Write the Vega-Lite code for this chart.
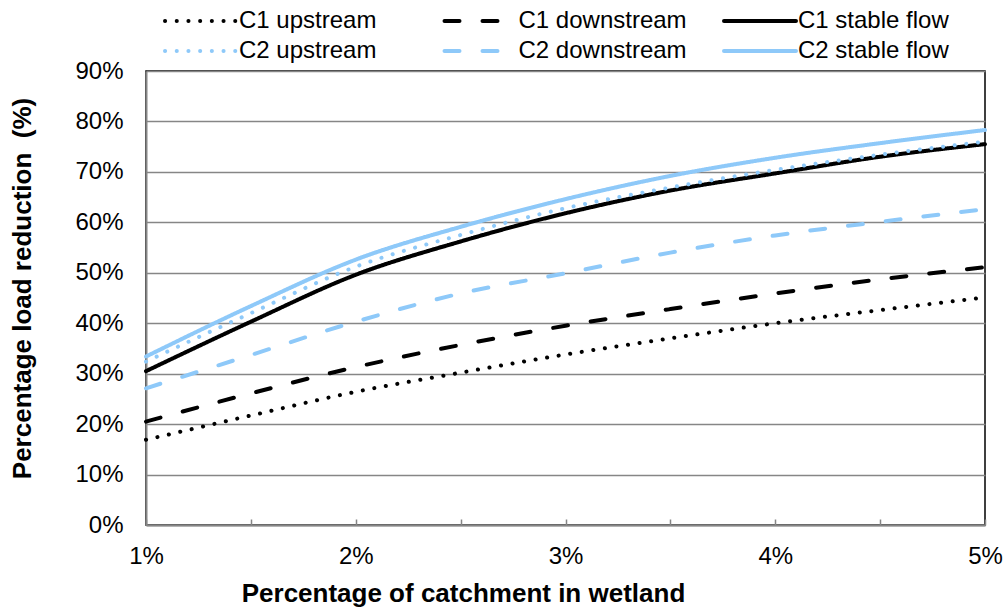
{
  "$schema": "https://vega.github.io/schema/vega-lite/v6.json",
  "width": 839,
  "height": 454,
  "autosize": {"type": "none"},
  "padding": {"left": 146, "top": 71, "right": 21, "bottom": 85},
  "background": "white",
  "config": {
    "view": {"stroke": "black", "strokeWidth": 1.5},
    "font": "Liberation Sans",
    "legend": {
      "orient": "none", "columns": 3, "title": null, "symbolType": "stroke", "symbolSize": 5184,
      "symbolStrokeWidth": 4, "labelFontSize": 24, "labelColor": "black", "labelLimit": 400,
      "gridAlign": "all", "columnPadding": 28.5, "labelOffset": 0
    }
  },
  "data": {"values": [
    {"series": "C1 upstream", "x": 1, "y": 16.9},
    {"series": "C1 upstream", "x": 1.5, "y": 21.7},
    {"series": "C1 upstream", "x": 2, "y": 26.4},
    {"series": "C1 upstream", "x": 2.5, "y": 30.2},
    {"series": "C1 upstream", "x": 3, "y": 33.8},
    {"series": "C1 upstream", "x": 3.5, "y": 37.0},
    {"series": "C1 upstream", "x": 4, "y": 40.0},
    {"series": "C1 upstream", "x": 4.5, "y": 42.6},
    {"series": "C1 upstream", "x": 5, "y": 45.1},
    {"series": "C1 downstream", "x": 1, "y": 20.5},
    {"series": "C1 downstream", "x": 1.5, "y": 26.1},
    {"series": "C1 downstream", "x": 2, "y": 31.3},
    {"series": "C1 downstream", "x": 2.5, "y": 35.7},
    {"series": "C1 downstream", "x": 3, "y": 39.5},
    {"series": "C1 downstream", "x": 3.5, "y": 42.8},
    {"series": "C1 downstream", "x": 4, "y": 45.9},
    {"series": "C1 downstream", "x": 4.5, "y": 48.7},
    {"series": "C1 downstream", "x": 5, "y": 51.1},
    {"series": "C1 stable flow", "x": 1, "y": 30.5},
    {"series": "C1 stable flow", "x": 1.5, "y": 40.3},
    {"series": "C1 stable flow", "x": 2, "y": 49.6},
    {"series": "C1 stable flow", "x": 2.5, "y": 56.2},
    {"series": "C1 stable flow", "x": 3, "y": 61.8},
    {"series": "C1 stable flow", "x": 3.5, "y": 66.3},
    {"series": "C1 stable flow", "x": 4, "y": 69.7},
    {"series": "C1 stable flow", "x": 4.5, "y": 73.0},
    {"series": "C1 stable flow", "x": 5, "y": 75.5},
    {"series": "C2 upstream", "x": 1, "y": 32.4},
    {"series": "C2 upstream", "x": 1.5, "y": 42.0},
    {"series": "C2 upstream", "x": 2, "y": 51.2},
    {"series": "C2 upstream", "x": 2.5, "y": 57.5},
    {"series": "C2 upstream", "x": 3, "y": 62.8},
    {"series": "C2 upstream", "x": 3.5, "y": 66.9},
    {"series": "C2 upstream", "x": 4, "y": 70.4},
    {"series": "C2 upstream", "x": 4.5, "y": 73.4},
    {"series": "C2 upstream", "x": 5, "y": 76.0},
    {"series": "C2 downstream", "x": 1, "y": 27.1},
    {"series": "C2 downstream", "x": 1.5, "y": 33.7},
    {"series": "C2 downstream", "x": 2, "y": 40.3},
    {"series": "C2 downstream", "x": 2.5, "y": 45.9},
    {"series": "C2 downstream", "x": 3, "y": 49.9},
    {"series": "C2 downstream", "x": 3.5, "y": 54.0},
    {"series": "C2 downstream", "x": 4, "y": 57.4},
    {"series": "C2 downstream", "x": 4.5, "y": 60.1},
    {"series": "C2 downstream", "x": 5, "y": 62.6},
    {"series": "C2 stable flow", "x": 1, "y": 33.4},
    {"series": "C2 stable flow", "x": 1.5, "y": 43.4},
    {"series": "C2 stable flow", "x": 2, "y": 52.6},
    {"series": "C2 stable flow", "x": 2.5, "y": 59.1},
    {"series": "C2 stable flow", "x": 3, "y": 64.6},
    {"series": "C2 stable flow", "x": 3.5, "y": 69.2},
    {"series": "C2 stable flow", "x": 4, "y": 72.8},
    {"series": "C2 stable flow", "x": 4.5, "y": 75.7},
    {"series": "C2 stable flow", "x": 5, "y": 78.3}
  ]},
  "encoding": {
    "x": {
      "field": "x", "type": "quantitative",
      "scale": {"domain": [1, 5], "nice": false},
      "axis": {
        "values": [1, 1.5, 2, 2.5, 3, 3.5, 4, 4.5, 5],
        "labelExpr": "datum.value % 1 == 0 ? datum.value + '%' : ''",
        "grid": false,
        "tickSize": -6, "tickColor": "#868686", "tickWidth": 1.5,
        "domainColor": "#868686", "domainWidth": 2,
        "labelFontSize": 24, "labelColor": "black", "labelPadding": 25,
        "labelFlush": false,
        "title": "Percentage of catchment in wetland",
        "titleFontSize": 26, "titleFontWeight": "bold", "titleColor": "black",
        "titleX": 317, "titleY": 68, "titleBaseline": "middle", "titleAlign": "center"
      }
    },
    "y": {
      "field": "y", "type": "quantitative",
      "scale": {"domain": [0, 90], "nice": false},
      "axis": {
        "values": [0, 10, 20, 30, 40, 50, 60, 70, 80, 90],
        "labelExpr": "datum.value + '%'",
        "ticks": false,
        "domainColor": "#868686", "domainWidth": 2,
        "gridColor": "#868686", "gridWidth": 1.5,
        "labelFontSize": 24, "labelColor": "black", "labelPadding": 23,
        "title": "Percentage load reduction \u00a0(%)",
        "titleFontSize": 26, "titleFontWeight": "bold", "titleColor": "black",
        "titleX": -124, "titleY": 217, "titleBaseline": "middle", "titleAlign": "center", "titleAngle": 270
      }
    }
  },
  "layer": [
    {
      "transform": [{"filter": "indexof(datum.series, 'C1') == 0"}],
      "mark": {"type": "line", "interpolate": "monotone", "strokeWidth": 4, "strokeCap": "round"},
      "encoding": {
        "color": {
          "field": "series", "type": "nominal",
          "scale": {"domain": ["C1 upstream", "C1 downstream", "C1 stable flow"], "range": ["#000000", "#000000", "#000000"]},
          "legend": {"legendX": 17, "legendY": -88, "encode": {"symbols": {"update": {"strokeCap": {"value": "round"}}}}}
        },
        "strokeDash": {
          "field": "series", "type": "nominal",
          "scale": {"domain": ["C1 upstream", "C1 downstream", "C1 stable flow"], "range": [[0.1, 11.6], [15, 23], [1, 0]]},
          "legend": {"legendX": 17, "legendY": -88, "encode": {"symbols": {"update": {"strokeCap": {"value": "round"}}}}}
        }
      }
    },
    {
      "transform": [{"filter": "indexof(datum.series, 'C2') == 0"}],
      "mark": {"type": "line", "interpolate": "monotone", "strokeWidth": 4, "strokeCap": "round"},
      "encoding": {
        "color": {
          "field": "series", "type": "nominal",
          "scale": {"domain": ["C2 upstream", "C2 downstream", "C2 stable flow"], "range": ["#8EC9F9", "#8EC9F9", "#8EC9F9"]},
          "legend": {"legendX": 17, "legendY": -58, "encode": {"symbols": {"update": {"strokeCap": {"value": "round"}}}}}
        },
        "strokeDash": {
          "field": "series", "type": "nominal",
          "scale": {"domain": ["C2 upstream", "C2 downstream", "C2 stable flow"], "range": [[0.1, 11.6], [15, 23], [1, 0]]},
          "legend": {"legendX": 17, "legendY": -58, "encode": {"symbols": {"update": {"strokeCap": {"value": "round"}}}}}
        }
      }
    }
  ],
  "resolve": {
    "scale": {"color": "independent", "strokeDash": "independent"},
    "legend": {"color": "independent", "strokeDash": "independent"}
  }
}
